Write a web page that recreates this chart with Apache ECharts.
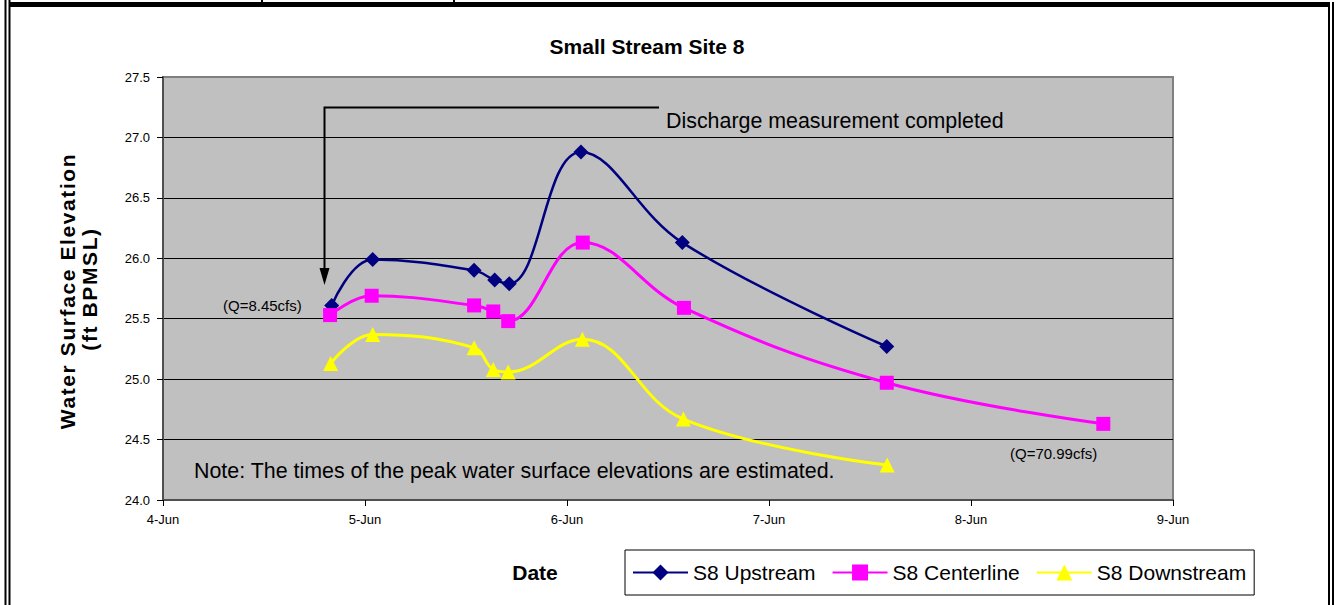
<!DOCTYPE html>
<html>
<head>
<meta charset="utf-8">
<title>Small Stream Site 8</title>
<script src="https://cdn.jsdelivr.net/npm/echarts@6/dist/echarts.min.js"></script>
<style>
  html, body { margin: 0; padding: 0; background: #fff; }
  #chart { width: 1336px; height: 605px; }
</style>
</head>
<body>
<div id="chart"></div>
<script>
// Measurement times, as day of June (fraction = time of day)
const upstreamDay   = [4.835, 5.038, 5.540, 5.642, 5.714, 6.069, 6.571, 7.583];
const centerlineDay = [4.827, 5.033, 5.540, 5.635, 5.709, 6.078, 6.579, 7.583, 8.655];
const downstreamDay = [4.830, 5.038, 5.540, 5.635, 5.709, 6.076, 6.576, 7.585];

// Water surface elevations (ft BPMSL)
const upstreamElev   = [25.61, 25.99, 25.90, 25.82, 25.79, 26.88, 26.13, 25.27];
const centerlineElev = [25.53, 25.69, 25.61, 25.56, 25.48, 26.13, 25.59, 24.97, 24.63];
const downstreamElev = [25.13, 25.37, 25.26, 25.08, 25.06, 25.33, 24.67, 24.29];

const seriesNames = ['S8 Upstream', 'S8 Centerline', 'S8 Downstream'];
const xTickDays = [4, 5, 6, 7, 8, 9];
const yTitleLines = ['Water Surface Elevation', '(ft BPMSL)'];

const FONT = '"Liberation Sans", Arial, Helvetica, sans-serif';

function pairs(xs, ys) { return xs.map((x, i) => [x, ys[i]]); }

const chart = echarts.init(document.getElementById('chart'), null, { renderer: 'svg' });

const option = {
  animation: false,
  backgroundColor: '#ffffff',
  textStyle: { fontFamily: FONT },
  grid: {
    left: 163, right: 163, top: 77, bottom: 105,
    show: true, backgroundColor: '#c0c0c0',
    borderColor: '#808080', borderWidth: 2
  },
  xAxis: {
    type: 'value', min: xTickDays[0], max: xTickDays[xTickDays.length - 1], interval: 1,
    axisLine: { lineStyle: { color: '#505050', width: 2 } },
    axisTick: { length: 6, lineStyle: { color: '#000', width: 1 } },
    axisLabel: { formatter: v => v + '-Jun', color: '#000', fontSize: 13, margin: 13, fontFamily: FONT },
    splitLine: { show: false }
  },
  yAxis: {
    type: 'value', min: 24, max: 27.5, interval: 0.5,
    axisLine: { show: true, lineStyle: { color: '#505050', width: 2 } },
    axisTick: { show: true, length: 6, lineStyle: { color: '#000', width: 1 } },
    axisLabel: { formatter: v => v.toFixed(1), color: '#000', fontSize: 13, margin: 13, fontFamily: FONT },
    splitLine: {
      show: true,
      lineStyle: { color: ['#000', '#000', '#000', '#000', '#000', '#000', '#000', '#808080'], width: 1 }
    }
  },
  legend: {
    data: seriesNames,
    left: 625, top: 550,
    padding: [12, 8, 12, 7],
    itemGap: 16, itemWidth: 55, itemHeight: 20,
    borderColor: '#000', borderWidth: 1, backgroundColor: '#fff',
    textStyle: { color: '#000', fontSize: 21, fontFamily: FONT }
  },
  series: [
    {
      name: seriesNames[0], type: 'line', data: pairs(upstreamDay, upstreamElev),
      smooth: 0.4, symbol: 'diamond', symbolSize: 15,
      lineStyle: { color: '#000080', width: 2.5 },
      itemStyle: { color: '#000080' }, z: 3
    },
    {
      name: seriesNames[1], type: 'line', data: pairs(centerlineDay, centerlineElev),
      smooth: 0.4, symbol: 'rect', symbolSize: 14,
      lineStyle: { color: '#ff00ff', width: 3 },
      itemStyle: { color: '#ff00ff' }, z: 4
    },
    {
      name: seriesNames[2], type: 'line', data: pairs(downstreamDay, downstreamElev),
      smooth: 0.4, symbol: 'triangle', symbolSize: [15, 15],
      lineStyle: { color: '#ffff00', width: 3 },
      itemStyle: { color: '#ffff00' }, z: 5
    }
  ],
  graphic: [
    // page frame
    { type: 'rect', shape: { x: 4.5, y: 0, width: 2, height: 605 }, style: { fill: '#000' }, silent: true },
    { type: 'rect', shape: { x: 8.5, y: 0, width: 2, height: 605 }, style: { fill: '#000' }, silent: true },
    { type: 'rect', shape: { x: 1328, y: 2, width: 2, height: 603 }, style: { fill: '#000' }, silent: true },
    { type: 'rect', shape: { x: 1332, y: 2, width: 2, height: 603 }, style: { fill: '#000' }, silent: true },
    { type: 'rect', shape: { x: 10, y: 2, width: 1320, height: 5 }, style: { fill: '#000' }, silent: true },
    { type: 'rect', shape: { x: 261, y: 0, width: 2, height: 3 }, style: { fill: '#000' }, silent: true },
    { type: 'rect', shape: { x: 453, y: 0, width: 2, height: 3 }, style: { fill: '#000' }, silent: true },

    // chart title
    { type: 'text', x: 647, y: 46, silent: true,
      style: { text: 'Small Stream Site 8', fill: '#000', font: 'bold 21px ' + FONT, textAlign: 'center', textVerticalAlign: 'middle' } },

    // axis titles
    { type: 'text', x: 535, y: 572, silent: true,
      style: { text: 'Date', fill: '#000', font: 'bold 21px ' + FONT, textAlign: 'center', textVerticalAlign: 'middle' } },
    { type: 'text', x: 67, y: 291, rotation: Math.PI / 2, silent: true,
      style: { text: yTitleLines[0], fill: '#000', font: 'bold 21px ' + FONT, textAlign: 'center', textVerticalAlign: 'middle' } },
    { type: 'text', x: 89, y: 289, rotation: Math.PI / 2, silent: true,
      style: { text: yTitleLines[1], fill: '#000', font: 'bold 21px ' + FONT, textAlign: 'center', textVerticalAlign: 'middle' } },

    // discharge measurement callout: bracket and arrow
    { type: 'polyline', silent: true, z: 10,
      shape: { points: [[659, 107.5], [324.5, 107.5], [324.5, 272]] },
      style: { stroke: '#000', lineWidth: 2, fill: null } },
    { type: 'polygon', silent: true, z: 10,
      shape: { points: [[319.5, 268], [329.5, 268], [324.5, 285]] },
      style: { fill: '#000' } },
    { type: 'text', x: 666, y: 121, silent: true, z: 10,
      style: { text: 'Discharge measurement completed', fill: '#000', font: '21.4px ' + FONT, textAlign: 'left', textVerticalAlign: 'middle' } },

    // flow notes
    { type: 'text', x: 223, y: 305, silent: true, z: 10,
      style: { text: '(Q=8.45cfs)', fill: '#000', font: '15px ' + FONT, textAlign: 'left', textVerticalAlign: 'middle' } },
    { type: 'text', x: 1010, y: 453, silent: true, z: 10,
      style: { text: '(Q=70.99cfs)', fill: '#000', font: '15px ' + FONT, textAlign: 'left', textVerticalAlign: 'middle' } },
    { type: 'text', x: 194, y: 471, silent: true, z: 10,
      style: { text: 'Note: The times of the peak water surface elevations are estimated.', fill: '#000', font: '21.4px ' + FONT, textAlign: 'left', textVerticalAlign: 'middle' } }
  ]
};

chart.setOption(option);

// widen the character spacing of the vertical axis title
function spaceAxisTitle() {
  document.querySelectorAll('#chart svg text').forEach(t => {
    if (yTitleLines.includes(t.textContent)) t.setAttribute('letter-spacing', '1.6');
  });
}
chart.on('finished', spaceAxisTitle);
spaceAxisTitle();
</script>
</body>
</html>
